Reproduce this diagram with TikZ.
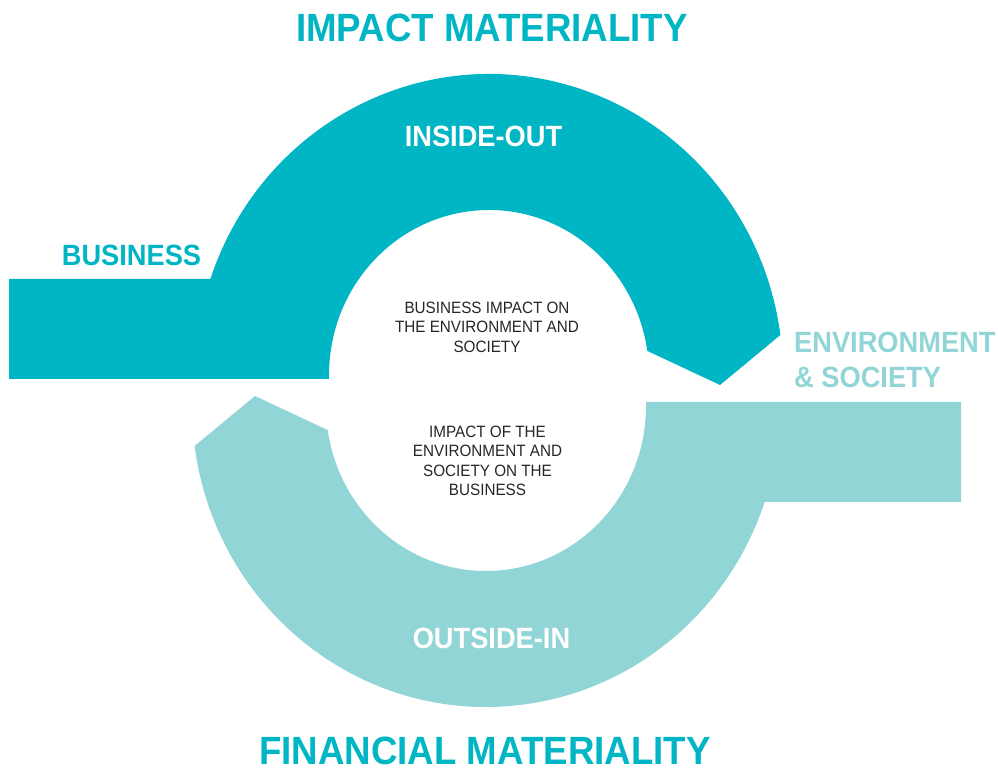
\documentclass[tikz,border=0pt]{standalone}
\usepackage{fontspec}
\setmainfont{Liberation Sans}[FakeStretch=0.93]
\definecolor{tealdark}{RGB}{0,181,196}
\definecolor{teallight}{RGB}{146,213,214}
\definecolor{txtgray}{RGB}{38,38,38}
\begin{document}
\begin{tikzpicture}[x=1pt,y=1pt,
  titletext/.style={font=\fontsize{39.4}{39.4}\selectfont\bfseries, text=tealdark, inner sep=0pt, anchor=base, text depth=0pt},
  arclabel/.style={font=\fontsize{29.3}{29.3}\selectfont\bfseries, text=white, inner sep=0pt, anchor=base},
  sidelabel/.style={font=\fontsize{29.3}{35}\selectfont\bfseries, inner sep=0pt},
  innertext/.style={font=\fontsize{16.4}{19.4}\selectfont, text=txtgray, inner sep=0pt, align=center}]
\useasboundingbox (0,0) rectangle (998,769);
% upper (inside-out) band
\fill[tealdark] (9,490) -- (210.4,490)
  arc[start angle=161.4, end angle=7.64, x radius=294pt, y radius=301pt]
  -- (720,384) -- (647.3,418.1)
  arc[start angle=8.4, end angle=180, x radius=160pt, y radius=165pt]
  -- (329,390) -- (9,390) -- cycle;
% lower (outside-in) band
\fill[teallight] (961,367) -- (646,367) -- (646,363)
  arc[start angle=0, end angle=-171.6, x radius=160pt, y radius=165pt]
  -- (255,373) -- (194.6,323)
  arc[start angle=-172.36, end angle=-18.6, x radius=294pt, y radius=301pt]
  -- (961,267) -- cycle;
% texts
\node[titletext] (impact) at (492,727) {IMPACT MATERIALITY};
\node[titletext] (financial) at (485,4.5) {FINANCIAL MATERIALITY};
\node[arclabel] (insideout) at (483.5,622) {INSIDE-OUT};
\node[arclabel] (outsidein) at (491.5,121) {OUTSIDE-IN};
\node[sidelabel, text=tealdark, anchor=base] (business) at (131.5,503) {BUSINESS};
\node[sidelabel, text=teallight, anchor=north west, align=left] (envsoc) at (794,437.5) {ENVIRONMENT\\\& SOCIETY};
\node[innertext] (bizimpact) at (487,442) {BUSINESS IMPACT ON\\THE ENVIRONMENT AND\\SOCIETY};
\node[innertext] (envimpact) at (487.5,308) {IMPACT OF THE\\ENVIRONMENT AND\\SOCIETY ON THE\\BUSINESS};
\end{tikzpicture}
\end{document}
